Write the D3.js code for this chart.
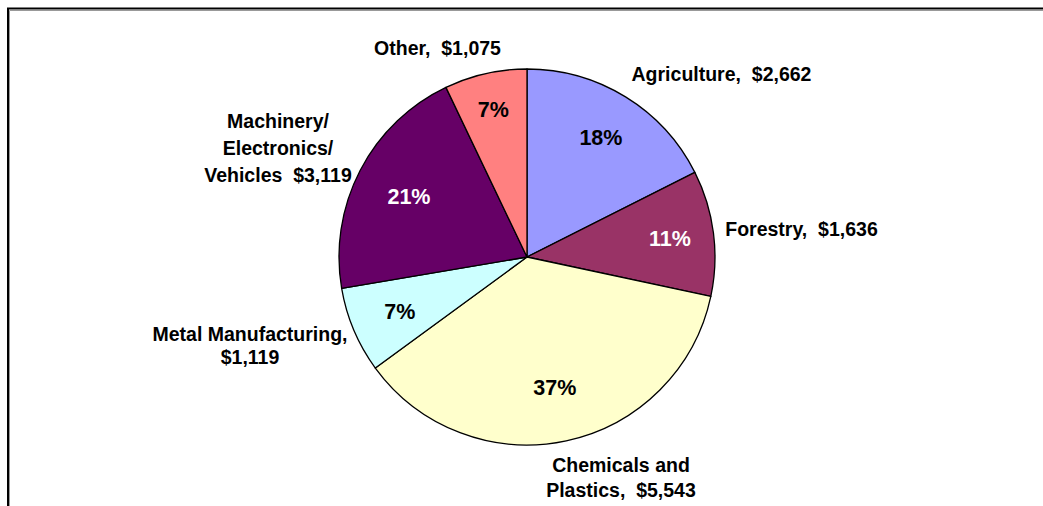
<!DOCTYPE html>
<html>
<head>
<meta charset="utf-8">
<script src="https://cdn.jsdelivr.net/npm/d3@7"></script>
<style>
  html, body { margin: 0; padding: 0; background: #fff; }
  svg { display: block; }
  text { font-family: "Liberation Sans", Arial, sans-serif; font-weight: bold; white-space: pre; }
</style>
</head>
<body>
<div id="chart"></div>
<script>
// ---- data ----
const categories = ["Agriculture", "Forestry", "Chemicals and Plastics", "Metal Manufacturing", "Machinery/Electronics/Vehicles", "Other"];
const values = [2662, 1636, 5543, 1119, 3119, 1075];
const nameLines = [["Agriculture,"], ["Forestry,"], ["Chemicals and", "Plastics,"], ["Metal Manufacturing,", ""], ["Machinery/", "Electronics/", "Vehicles"], ["Other,"]];
const colors = ["#9999FF", "#993366", "#FFFFCC", "#CCFFFF", "#660066", "#FF8080"];
const pctColors = ["#000", "#fff", "#000", "#000", "#fff", "#000"];

// ---- layout (label offsets from pie centre, px) ----
const labelLayout = [
  { dx: 194.5, dy: -176, lh: 0 },
  { dx: 274.5, dy: -21, lh: 0 },
  { dx: 94, dy: 215, lh: 25 },
  { dx: -277, dy: 84, lh: 23 },
  { dx: -249, dy: -129, lh: 27 },
  { dx: -89.5, dy: -202, lh: 0 }
];
const pctRadius = [141, 144, 133, 138, 133, 152];

const W = 1043, H = 506;
const cx = 527, cy = 257, R = 188;

const svg = d3.select("#chart").append("svg").attr("width", W).attr("height", H);
svg.append("rect").attr("width", W).attr("height", H).attr("fill", "#fff");

// chart frame (extends beyond view on right/bottom)
svg.append("rect").attr("x", 8).attr("y", 8.5).attr("width", W + 50).attr("height", H + 50)
  .attr("fill", "none").attr("stroke", "#000").attr("stroke-width", 2);
svg.append("path").attr("d", `M9.5,${H + 10} V10.5 H${W + 10}`)
  .attr("fill", "none").attr("stroke", "#999").attr("stroke-width", 1);

const data = categories.map((c, i) => ({ name: c, value: values[i], i }));
const total = d3.sum(values);

const pie = d3.pie().value(d => d.value).sort(null);
const arcs = pie(data);
const arc = d3.arc().innerRadius(0).outerRadius(R);

const g = svg.append("g").attr("transform", `translate(${cx},${cy})`);

g.selectAll("path.slice").data(arcs).enter().append("path")
  .attr("class", "slice")
  .attr("d", arc)
  .attr("fill", d => colors[d.data.i])
  .attr("stroke", "#000")
  .attr("stroke-width", 1.3)
  .attr("stroke-linejoin", "round");

// percent labels
g.selectAll("text.pct").data(arcs).enter().append("text")
  .attr("class", "pct")
  .attr("transform", d => {
    const a = d3.arc().innerRadius(pctRadius[d.data.i]).outerRadius(pctRadius[d.data.i]);
    const [x, y] = a.centroid(d);
    return `translate(${x},${y})`;
  })
  .attr("text-anchor", "middle")
  .attr("dy", "0.36em")
  .attr("font-size", "21.5px")
  .attr("fill", d => pctColors[d.data.i])
  .text(d => Math.round(d.data.value / total * 100) + "%");

// category labels
const fmt = d3.format("$,");
arcs.forEach(d => {
  const i = d.data.i;
  const lines = nameLines[i].slice();
  const last = lines.length - 1;
  lines[last] = lines[last] ? lines[last] + "  " + fmt(d.data.value) : fmt(d.data.value);
  const L = labelLayout[i];
  const t = g.append("text")
    .attr("text-anchor", "middle")
    .attr("font-size", "19.5px")
    .attr("fill", "#000");
  lines.forEach((ln, k) => {
    t.append("tspan").attr("x", L.dx).attr("y", L.dy + k * L.lh).text(ln);
  });
});
</script>
</body>
</html>
